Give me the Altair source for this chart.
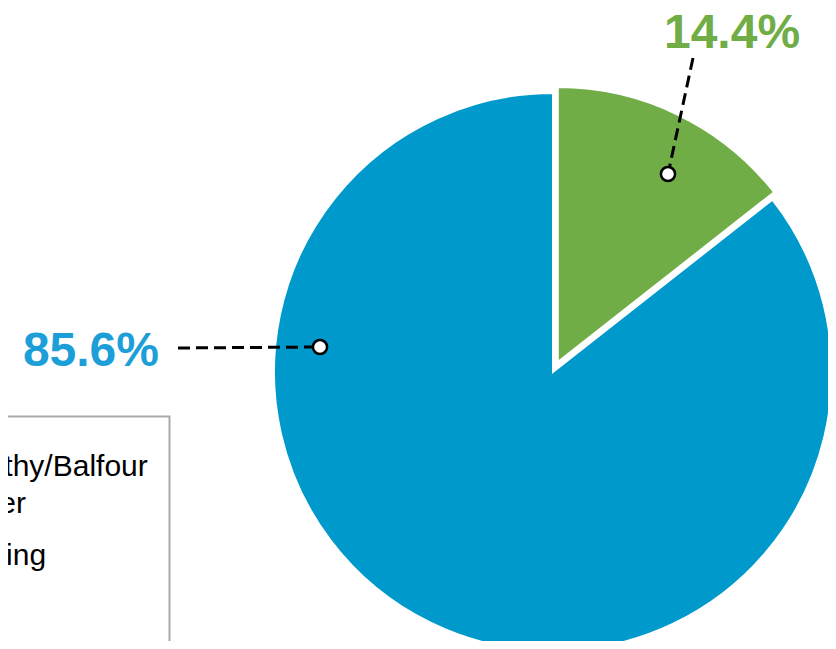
import math
import altair as alt
import pandas as pd

# ---- data ----
categories = ["McCarthy/Balfour|Member", "Financing"]
shares = [85.6, 14.4]
draw_order = [1, 0]          # green slice starts at 12 o'clock, clockwise

# ---- styles / layout ----
slice_colors = ["#0099cc", "#70ad47"]
label_colors = ["#1c9fd9", "#70ad47"]
W, H = 820, 633
CX, CY = 545, 364
RADIUS = {categories[0]: 279, categories[1]: 275}
EXPLODE = {categories[0]: 0, categories[1]: 11}
# callout layout (svg pixels): dot, start of leader line, label anchor
CALLOUT = {
    categories[0]: dict(dot=(312, 339), line=(170, 340), text=(151, 358), align="right"),
    categories[1]: dict(dot=(660, 166), line=(685, 50), text=(724, 40), align="center"),
}
LEGEND_BOX = dict(x=-250, x2=161.5, y=408.5, y2=720)
FONT = "Liberation Sans"

df = pd.DataFrame({"category": categories, "share": shares, "draw": draw_order})

rad_expr = " : ".join(
    [f"datum.category == '{c}' ? {RADIUS[c]}" for c in categories]) + " : 0"
exp_expr = " : ".join(
    [f"datum.category == '{c}' ? {EXPLODE[c]}" for c in categories]) + " : 0"

base = (
    alt.Chart(df)
    .transform_window(end="sum(share)", sort=[alt.SortField("draw")], frame=[None, 0])
    .transform_calculate(start="datum.end - datum.share")
    .transform_calculate(mid="(datum.start + datum.end) / 2 * 2 * PI / 100")
    .transform_calculate(rad=rad_expr, ex=exp_expr)
    .transform_calculate(
        px=f"{CX} + datum.ex * sin(datum.mid)",
        py=f"{CY} - datum.ex * cos(datum.mid)",
        label="format(datum.share, '.1f') + '%'",
    )
)

theta_scale = alt.Scale(domain=[0, 100], range=[0, 2 * math.pi])

# legend frame (drawn below the native legend)
frame = base.transform_filter(alt.datum.category == categories[0]).mark_rect(
    fill="white", stroke="#aaaaaa", strokeWidth=2
).encode(
    x=alt.value(LEGEND_BOX["x"]), x2=alt.value(LEGEND_BOX["x2"]),
    y=alt.value(LEGEND_BOX["y"]), y2=alt.value(LEGEND_BOX["y2"]),
)

pie = base.mark_arc(stroke="white", strokeWidth=2).encode(
    theta=alt.Theta("start:Q", scale=theta_scale),
    theta2="end:Q",
    x=alt.X("px:Q", scale=None, axis=None),
    y=alt.Y("py:Q", scale=None, axis=None),
    radius=alt.Radius("rad:Q", scale=None),
    color=alt.Color(
        "category:N",
        scale=alt.Scale(domain=categories, range=slice_colors),
        legend=alt.Legend(
            orient="none", legendX=-130, legendY=444, title=None,
            labelFontSize=30, labelFont=FONT, labelColor="black", labelLimit=0,
            labelExpr="split(datum.label, '|')",
            padding=0,
            symbolType="square", symbolSize=200, labelOffset=8, rowPadding=22,
        ),
    ),
)

layers = [frame, pie]
for cat, lc in zip(categories, label_colors):
    c = CALLOUT[cat]
    sub = base.transform_filter(alt.datum.category == cat)
    layers.append(
        sub.mark_rule(color="black", strokeWidth=3, strokeDash=[12, 6]).encode(
            x=alt.value(c["line"][0]), y=alt.value(c["line"][1]),
            x2=alt.value(c["dot"][0]), y2=alt.value(c["dot"][1]),
        )
    )
    layers.append(
        sub.mark_point(shape="circle", filled=True, fill="white", stroke="black",
                       strokeWidth=2.5, size=200, opacity=1).encode(
            x=alt.value(c["dot"][0]), y=alt.value(c["dot"][1]),
        )
    )
    layers.append(
        sub.mark_text(font=FONT, fontSize=48, fontWeight="bold", color=lc,
                      align=c["align"], baseline="alphabetic").encode(
            x=alt.value(c["text"][0]), y=alt.value(c["text"][1]),
            text="label:N",
        )
    )

chart = (
    alt.layer(*layers)
    .properties(width=W, height=H, autosize=alt.AutoSizeParams(type="none"), padding=0,
                view=alt.ViewBackground(strokeWidth=0, stroke="transparent"))
    .configure_view(stroke="transparent", strokeWidth=0)
    .configure(background="white", style={"guide-label": {"lineHeight": 37}})
)

chart.save("out.html", embed_options={"renderer": "svg", "actions": False})
